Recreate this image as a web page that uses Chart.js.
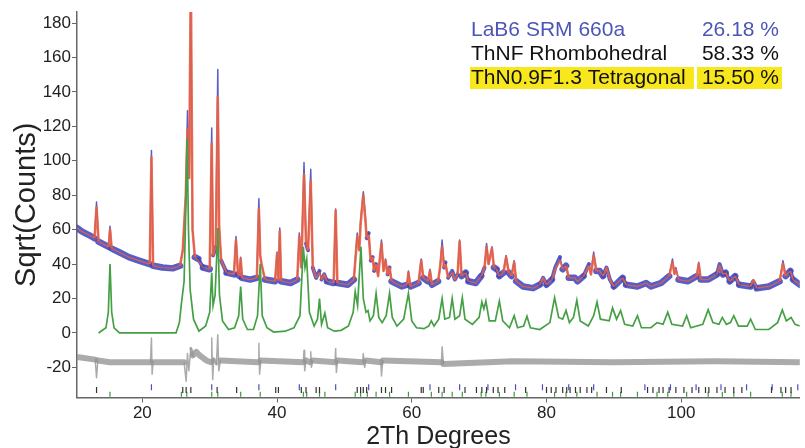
<!DOCTYPE html>
<html>
<head>
<meta charset="utf-8">
<script src="https://cdn.jsdelivr.net/npm/chart.js@4.4.1/dist/chart.umd.min.js"></script>
<style>
  html, body { margin: 0; padding: 0; background: #fff; }
  canvas { display: block; }
</style>
</head>
<body>
<canvas id="c" width="805" height="448"></canvas>
<script>
const twoTheta = [10.3, 11.0, 12.0, 12.9, 13.2, 13.5, 14.5, 15.0, 15.2, 15.45, 16.5, 18.0, 19.5, 21.1, 21.35, 21.6, 23.0, 24.5, 25.6, 26.0,
  26.45, 26.7, 26.95, 27.2, 27.45, 27.8, 28.3, 29.0, 30.0, 30.3, 30.5, 30.9, 31.2, 31.4, 31.7, 32.5, 33.6, 33.9, 34.2, 34.4,
  34.6, 34.8, 36.0, 37.0, 37.3, 37.5, 37.7, 38.2, 39.7, 40.0, 40.2, 40.4, 40.6, 42.0, 43.0, 43.3, 43.6, 44.0, 44.3, 44.6,
  45.0, 45.3, 45.8, 46.3, 46.6, 47.0, 47.4, 48.4, 48.7, 48.95, 50.5, 51.4, 51.9, 52.2, 52.4, 52.8, 53.1, 53.3, 53.6, 53.9,
  54.2, 54.4, 54.7, 55.0, 55.5, 55.8, 56.1, 56.4, 56.7, 57.0, 58.5, 59.3, 59.5, 59.8, 61.0, 61.4, 61.7, 62.4, 62.7, 63.0,
  63.9, 64.2, 64.5, 64.8, 65.0, 65.4, 66.0, 66.4, 66.8, 67.1, 67.4, 68.0, 68.4, 69.5, 70.3, 70.8, 71.1, 71.4, 71.9, 72.2,
  72.6, 73.0, 73.6, 74.0, 74.4, 74.8, 75.2, 75.5, 76.5, 78.0, 79.0, 79.5, 80.0, 80.8, 81.3, 82.0, 82.4, 82.9, 83.3, 84.2,
  84.6, 85.5, 86.3, 86.6, 87.0, 87.4, 87.9, 88.4, 88.9, 89.4, 90.0, 91.3, 91.8, 93.5, 94.8, 95.5, 97.0, 98.2, 98.7, 99.0,
  99.2, 99.6, 101.0, 102.3, 102.6, 102.9, 104.0, 105.3, 105.7, 106.2, 106.6, 107.2, 108.0, 108.6, 110.3, 110.7, 111.2, 113.0, 114.6, 115.1,
  115.5, 116.2, 116.6, 117.6];
const yObs = [61, 59, 57, 55, 76, 53, 51, 50, 62, 49, 47, 44, 42, 40, 106, 39, 38, 37.5, 39, 48,
  80, 129, 90, 200, 60, 44, 43, 38, 37, 119, 45, 50, 153, 62, 42, 35, 34, 56, 34, 33,
  44, 32, 31, 32, 78, 45, 40, 31, 30, 47, 31, 61, 30, 29, 31, 58, 38, 99, 52, 48,
  95, 38, 32, 36, 31, 34, 30, 29, 72, 29, 28, 31, 58, 48, 65, 82, 68, 55, 58, 42,
  44, 36, 40, 33, 54, 36, 43, 34, 38, 30, 27, 28, 36, 27, 29, 43, 32, 30, 37, 28,
  30, 38, 54, 38, 41, 32, 36, 31, 34, 54, 33, 35, 30, 29, 33, 38, 52, 40, 50, 38,
  37, 33, 35, 45, 35, 33, 42, 30, 27, 26, 28, 32, 28, 31, 38, 44, 37, 39, 32, 32,
  30, 33, 40, 34, 47, 36, 36, 33, 38, 31, 27, 32, 28, 27, 29, 27, 29, 33, 43, 34,
  38, 31, 30, 33, 41, 31, 31, 34, 40, 34, 35, 30, 33, 28, 27, 30, 26, 27, 30, 42,
  33, 36, 31, 28];
const yCalc = [61, 59, 57, 55, 73, 53, 51, 50, 60, 49, 47, 44, 42, 40, 102, 39, 38, 37.5, 39, 48,
  80, 118, 90, 210, 60, 44, 42, 38, 37, 110, 45, 50, 137, 62, 42, 35, 34, 54, 34, 33,
  43, 32, 31, 32, 72, 45, 40, 31, 30, 46, 31, 59, 30, 29, 31, 56, 38, 92, 52, 48,
  88, 38, 32, 35, 31, 34, 30, 29, 71, 29, 28, 31, 56, 48, 63, 80, 66, 55, 57, 42,
  44, 36, 40, 33, 52, 36, 42, 34, 38, 30, 27, 28, 35, 27, 29, 42, 32, 30, 36, 28,
  30, 38, 50, 38, 40, 32, 35, 31, 34, 53, 33, 35, 30, 29, 33, 38, 50, 40, 49, 38,
  37, 33, 35, 44, 35, 33, 41, 30, 27, 26, 28, 32, 28, 31, 37, 42, 37, 39, 32, 32,
  30, 33, 39, 34, 45, 36, 36, 33, 38, 31, 27, 32, 28, 27, 29, 27, 29, 33, 41, 34,
  37, 31, 30, 33, 40, 31, 31, 34, 39, 34, 35, 30, 33, 28, 27, 31, 26, 27, 30, 40,
  33, 36, 31, 28];

// ThN0.9F1.3 tetragonal phase curve (green)
const tetraX = [13.5, 14.6, 14.95, 15.2, 15.45, 15.8, 16.6, 25.0, 25.5, 25.8, 26.2, 26.5, 26.65, 26.85, 27.1, 27.6, 28.4, 29.4, 30.0, 30.3,
  30.5, 30.8, 31.1, 31.2, 31.45, 31.9, 32.8, 33.7, 34.3, 34.6, 34.9, 35.6, 36.5, 37.1, 37.5, 37.8, 38.5, 39.5, 41.2, 42.5,
  43.4, 43.9, 44.15, 44.4, 44.8, 45.5, 46.0, 46.3, 46.6, 47.1, 47.5, 48.5, 49.5, 50.6, 51.3, 51.6, 51.95, 52.45, 52.8, 53.2,
  53.5, 53.8, 54.3, 54.7, 55.1, 55.6, 56.2, 56.7, 57.1, 57.8, 58.8, 59.5, 60.0, 60.7, 61.8, 62.5, 62.9, 63.3, 64.0, 64.5,
  64.9, 65.6, 66.0, 66.4, 67.1, 67.5, 67.9, 69.0, 70.0, 70.4, 70.7, 71.0, 71.5, 72.4, 73.0, 73.5, 74.5, 75.2, 75.7, 76.6,
  77.1, 77.6, 79.0, 80.5, 81.2, 81.8, 82.4, 82.9, 83.4, 84.0, 84.5, 85.0, 86.2, 87.0, 87.5, 88.0, 89.3, 89.8, 90.4, 91.0,
  91.6, 92.8, 93.5, 94.1, 95.5, 96.4, 97.3, 98.0, 98.6, 100.2, 100.8, 101.4, 103.2, 104.0, 104.7, 105.6, 106.1, 106.7, 107.3, 107.8,
  108.5, 109.8, 110.3, 111.0, 113.0, 114.3, 115.0, 115.6, 116.3, 116.9, 117.6];
const tetraY = [0, 3, 12, 40, 12, 3, 0, 0, 6, 17, 30, 80, 113, 60, 25, 8, 1, 4, 12, 35,
  16, 22, 50, 61, 22, 7, 2, 3, 10, 27, 8, 2, 2, 10, 40, 10, 3, 0.5, 1, 3,
  10, 50, 38, 43, 12, 4, 8, 20, 5, 11.5, 3, 1, 1.5, 4, 12, 24, 16, 50, 20, 12,
  13, 7, 10, 23, 9, 6, 10, 23, 9, 4, 8, 23, 7, 3, 2.5, 4, 7, 4, 8, 20,
  8, 9, 20, 8, 10, 20.5, 8, 5, 9, 18, 14, 18.5, 7, 7, 18.5, 7, 3, 10, 3, 4,
  9.7, 3, 2, 6, 20.5, 9, 8, 13, 6, 9, 19, 7, 4, 10, 18, 8, 7, 14.5, 8, 13,
  5, 4, 10, 3, 3, 6, 5, 12, 5, 4, 10, 3, 5, 13.5, 6, 5, 9, 5, 6, 10,
  4, 4, 8, 2, 2, 6, 13.3, 7, 9, 5, 4];

// Difference curve (grey)
const diffX = [10.3, 13.0, 13.2, 13.4, 15.2, 21.2, 21.35, 21.45, 21.6, 26.2, 26.5, 26.7, 26.9, 27.2, 27.5, 28.0, 28.5, 29.5, 30.2, 30.3,
  30.45, 30.6, 31.0, 31.2, 31.35, 31.6, 37.2, 37.3, 37.4, 37.6, 43.9, 44.0, 44.1, 44.3, 44.9, 45.0, 45.1, 45.3, 48.6, 48.7,
  48.8, 49.0, 52.7, 52.8, 53.0, 53.2, 55.4, 55.5, 55.7, 64.4, 64.5, 64.7, 75.0, 90.0, 105.0, 117.6];
const diffY = [-14, -15.5, -26, -16, -17, -17, -3, -24, -17, -17, -28, -12, -22, -9, -13, -11, -13, -16, -17, -3,
  -27, -15, -18, -1, -22, -16, -17, -6, -24, -16, -17, -10, -22, -16, -17, -11, -20, -16, -17, -9,
  -23, -16, -17, -12, -20, -16, -17, -25, -16, -17, -8, -18, -16.5, -17, -16.5, -17];

// Reflection markers
const lab6Ticks = [21.35, 30.3, 37.3, 43.3, 48.7, 53.6, 62.7, 67.1, 71.3, 75.4, 79.4, 83.3, 87.0, 94.6, 98.4, 102.2, 105.9, 109.7, 113.5, 117.3];
const thnfTicks = [13.2, 26.0, 26.5, 27.2, 31.1, 34.0, 39.8, 40.2, 43.6, 44.3, 45.8, 46.3, 51.9, 52.4, 52.8, 53.3, 55.5, 56.1, 57.0, 61.4,
  61.7, 64.0, 64.8, 67.9, 69.6, 70.4, 71.1, 72.1, 72.8, 73.8, 76.9, 80.0, 80.7, 81.4, 82.4, 83.0, 83.5, 84.3, 85.0, 86.0,
  86.7, 88.9, 91.1, 95.0, 95.8, 96.7, 97.3, 98.2, 99.2, 100.4, 101.6, 102.6, 103.6, 104.1, 105.3, 106.5, 107.8, 109.0, 113.4, 114.8, 115.5, 116.3];
const tetraTicks = [15.2, 25.8, 26.6, 30.3, 31.2, 34.6, 37.5, 43.9, 44.4, 46.3, 47.1, 51.6, 52.4, 53.4, 54.7, 56.7, 59.5, 62.9, 64.5, 66.0,
  67.5, 70.3, 71.0, 73.0, 75.2, 77.1, 81.2, 82.9, 84.5, 87.5, 89.8, 91.0, 93.5, 96.4, 98.0, 100.8, 104.0, 106.1, 107.8, 110.3, 115.0, 116.3];

const xTickLabels = [20, 40, 60, 80, 100];
const yTickLabels = [-20, 0, 20, 40, 60, 80, 100, 120, 140, 160, 180];

const legendRows = [
  { name: "LaB6 SRM 660a", pct: "26.18 %", color: "#4d55b6", mark: false },
  { name: "ThNF Rhombohedral", pct: "58.33 %", color: "#111", mark: false },
  { name: "ThN0.9F1.3 Tetragonal", pct: "15.50 %", color: "#111", mark: true }
];

const FONT = "'Liberation Sans', Arial, sans-serif";

function pts(xs, ys) { return xs.map((x, i) => ({ x: x, y: ys[i] })); }
function row(xs, y) { return xs.map(x => ({ x: x, y: y })); }

// wide on flat stretches (noise band), thin on steep peak flanks
function bandWidth(wide, mid, thin) {
  return ctx => {
    const dx = Math.abs(ctx.p1.x - ctx.p0.x) || 0.01;
    const s = Math.abs(ctx.p1.y - ctx.p0.y) / dx;
    return s < 1.6 ? wide : s < 4 ? mid : thin;
  };
}

const legendPlugin = {
  id: "phaseLegend",
  afterDraw(chart) {
    const ctx = chart.ctx;
    ctx.save();
    ctx.font = "21px " + FONT;
    ctx.textBaseline = "middle";
    const ys = [30, 54, 78];
    legendRows.forEach((r, i) => {
      if (r.mark) {
        ctx.fillStyle = "#f8e71c";
        ctx.fillRect(470, ys[i] - 11, 224, 22);
        ctx.fillRect(697, ys[i] - 11, 85, 22);
      }
      ctx.fillStyle = r.color;
      ctx.textAlign = "left";
      ctx.fillText(r.name, 471, ys[i]);
      ctx.textAlign = "right";
      ctx.fillText(r.pct, 779, ys[i]);
    });
    ctx.restore();
  }
};

function tickSet(xs, y, color, len) {
  return {
    type: "scatter",
    data: row(xs, y),
    showLine: false,
    pointStyle: "line",
    rotation: 90,
    pointRadius: len,
    borderWidth: 1.2,
    borderColor: color,
    order: 0
  };
}

new Chart(document.getElementById("c"), {
  type: "scatter",
  data: {
    datasets: [
      {
        label: "Yobs",
        data: pts(twoTheta, yObs),
        showLine: true, pointRadius: 0,
        borderColor: "rgba(58,66,188,0.85)", borderWidth: 1.5,
        borderCapStyle: "round", borderJoinStyle: "round",
        segment: { borderWidth: bandWidth(6.5, 4, 1.5) },
        order: 4
      },
      {
        label: "Ycalc",
        data: pts(twoTheta, yCalc),
        showLine: true, pointRadius: 0,
        borderColor: "rgba(242,98,62,0.85)", borderWidth: 2.4,
        borderJoinStyle: "round",
        segment: { borderWidth: bandWidth(1.2, 1.8, 2.6) },
        order: 3
      },
      {
        label: "ThN0.9F1.3 Tetragonal",
        data: pts(tetraX, tetraY),
        showLine: true, pointRadius: 0,
        borderColor: "#45a045", borderWidth: 1.7,
        order: 2
      },
      {
        label: "Diff",
        data: pts(diffX, diffY),
        showLine: true, pointRadius: 0,
        borderColor: "rgba(150,150,150,0.8)", borderWidth: 1.5,
        borderCapStyle: "round", borderJoinStyle: "round",
        segment: { borderWidth: bandWidth(6, 3, 1.5) },
        order: 1
      },
      tickSet(lab6Ticks, -31.5, "#4a50c0", 3),
      tickSet(thnfTicks, -33.2, "#333", 3),
      tickSet(tetraTicks, -35.6, "#3a9a3a", 2.5)
    ]
  },
  options: {
    responsive: false,
    animation: false,
    layout: { padding: { top: 12, right: 2, left: 0, bottom: 0 } },
    plugins: { legend: { display: false }, tooltip: { enabled: false } },
    scales: {
      x: {
        type: "linear",
        min: 10.3, max: 117.6,
        afterBuildTicks: s => { s.ticks = xTickLabels.map(v => ({ value: v })); },
        afterFit: s => { s.height = 50.5; },
        grid: { drawOnChartArea: false, drawTicks: true, tickLength: 5, color: "#666" },
        border: { color: "#666", width: 1.5 },
        ticks: { color: "#222", font: { family: FONT, size: 17 }, padding: 1, maxRotation: 0 },
        title: { display: true, text: "2Th Degrees", color: "#222", font: { family: FONT, size: 25, lineHeight: 0.85 }, padding: 0 }
      },
      y: {
        min: -37.5, max: 186.4,
        afterBuildTicks: s => { s.ticks = yTickLabels.map(v => ({ value: v })); },
        afterFit: s => { s.width = 77; },
        grid: { drawOnChartArea: false, drawTicks: true, tickLength: 5, color: "#666" },
        border: { color: "#666", width: 1.5 },
        ticks: { color: "#222", font: { family: FONT, size: 17 }, padding: 1 },
        title: { display: true, text: "Sqrt(Counts)", color: "#222", font: { family: FONT, size: 29 }, padding: { top: 10, bottom: 0 } }
      }
    }
  },
  plugins: [legendPlugin]
});
</script>
</body>
</html>
